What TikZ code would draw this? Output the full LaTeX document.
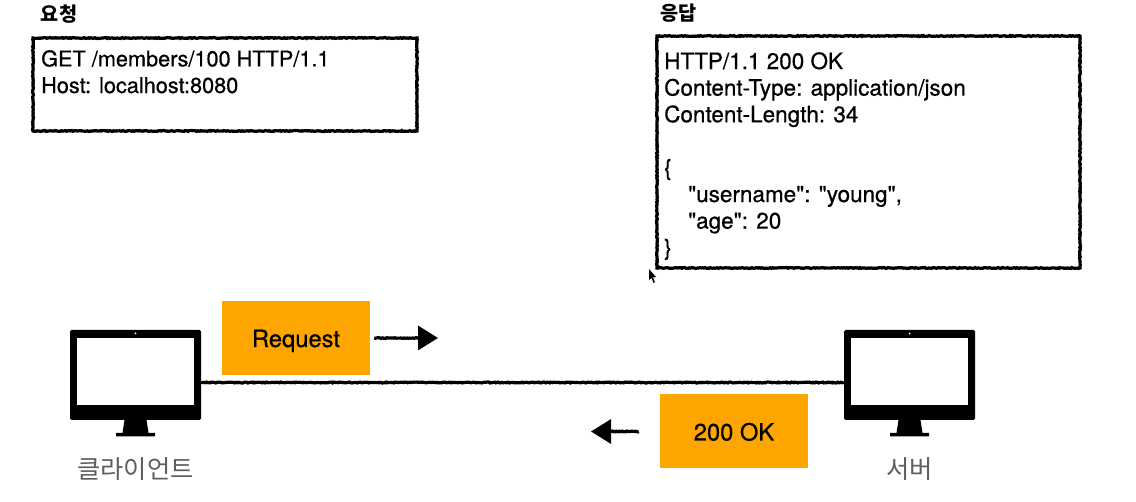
\documentclass[tikz,border=0pt]{standalone}
\usepackage{fontspec}
\setmainfont{TeX Gyre Heros}[Ligatures=TeXOff,FakeBold=0.6]
\newfontfamily\cjk{Noto Sans CJK KR}
\usetikzlibrary{arrows.meta,decorations.pathmorphing}
\definecolor{msgorange}{HTML}{FFA500}
\definecolor{labelgray}{HTML}{5F5F5F}
\tikzset{
  rough/.style={decorate,decoration={random steps,segment length=1.3pt,amplitude=0.45pt}},
  msgbox/.style={draw,line width=3.2pt,rough,inner sep=0pt},
  msgtext/.style={anchor=north west,align=left,inner sep=0pt},
  title/.style={inner sep=0pt,font=\cjk\bfseries\fontsize{19.7}{22}\selectfont},
  tag/.style={fill=msgorange,inner sep=0pt,minimum width=148pt,minimum height=74pt,text height=18pt,text depth=0pt,font=\fontsize{23.7}{27}\selectfont},
  screen/.style={fill=black,rounded corners=1.5pt,inner sep=0pt,minimum width=131pt,minimum height=90pt},
  wire/.style={line width=3.2pt,rough},
  flow/.style={line width=3.2pt,decorate,decoration={random steps,segment length=1.3pt,amplitude=0.45pt,post=lineto,post length=20pt},-{Triangle[length=20pt,width=24pt]}},
  hostname/.style={inner sep=0pt,text=labelgray,font=\cjk\fontsize{25.3}{29}\selectfont}
}
\begin{document}
\begin{tikzpicture}[x=1pt,y=-1pt]
        \useasboundingbox[fill=white] (0,0) rectangle (1136,502);

        % Request and response
        \node[title] (reqtitle) at (59,14) {요청};
        \node[title] (restitle) at (678.5,13) {응답};
        \node[msgbox,minimum width=384pt,minimum height=93pt] (reqbox) at (225,84.5) {};
        \node[msgbox,minimum width=423pt,minimum height=232pt] (resbox) at (868.5,152) {};
        \node[msgtext,font=\fontsize{21.7}{26.6}\selectfont] (reqtext) at (41,50) {GET /members/100 HTTP/1.1\\Host: localhost:8080};
        \node[msgtext,font=\fontsize{22.5}{26.6}\selectfont] (restext) at (664,52) {HTTP/1.1 200 OK\\Content-Type: application/json\\Content-Length: 34\\[26.6pt]\{\\\hspace*{24pt}"username": "young",\\\hspace*{24pt}"age": 20\\\}};

        % Pointer
        \fill (649,269) -- (649,280) -- (651.5,278) -- (653.5,283) -- (655,282) -- (653,277.5) -- (656,277) -- cycle;

        % Client and server
        \foreach \Name/\Center/\Text in {client/135.5/클라이언트,server/909.5/서버}{
        \node[screen] (\Name) at (\Center,375) {};
        \fill[white] (\Center-58.5,338) rectangle (\Center+58.5,405);
        \fill[white] (\Center,333.5) circle (1pt);
        \fill (\Center-11,420) -- (\Center+11,420) -- (\Center+13,433) -- (\Center+19.5,433) -- (\Center+19.5,436.5) -- (\Center-19.5,436.5) -- (\Center-19.5,433) -- (\Center-13,433) -- cycle;
        \node[hostname] (\Name label) at (\Center,469) {\Text};
        }
        \draw[wire] ([yshift=-7.5pt]client.east) -- ([yshift=-7.5pt]server.west);

        % Messages
        \node[tag] (request) at (296,338) {Request};
        \node[tag] (ok) at (734,431.5) {200 OK};
        \coordinate (requesttip) at (438,338);
        \coordinate (oktip) at (591,431.5);
        \draw[flow] ([xshift=4pt]request.east) -- (requesttip);
        \draw[flow] ([xshift=-21pt]ok.west) -- (oktip);
\end{tikzpicture}
\end{document}
